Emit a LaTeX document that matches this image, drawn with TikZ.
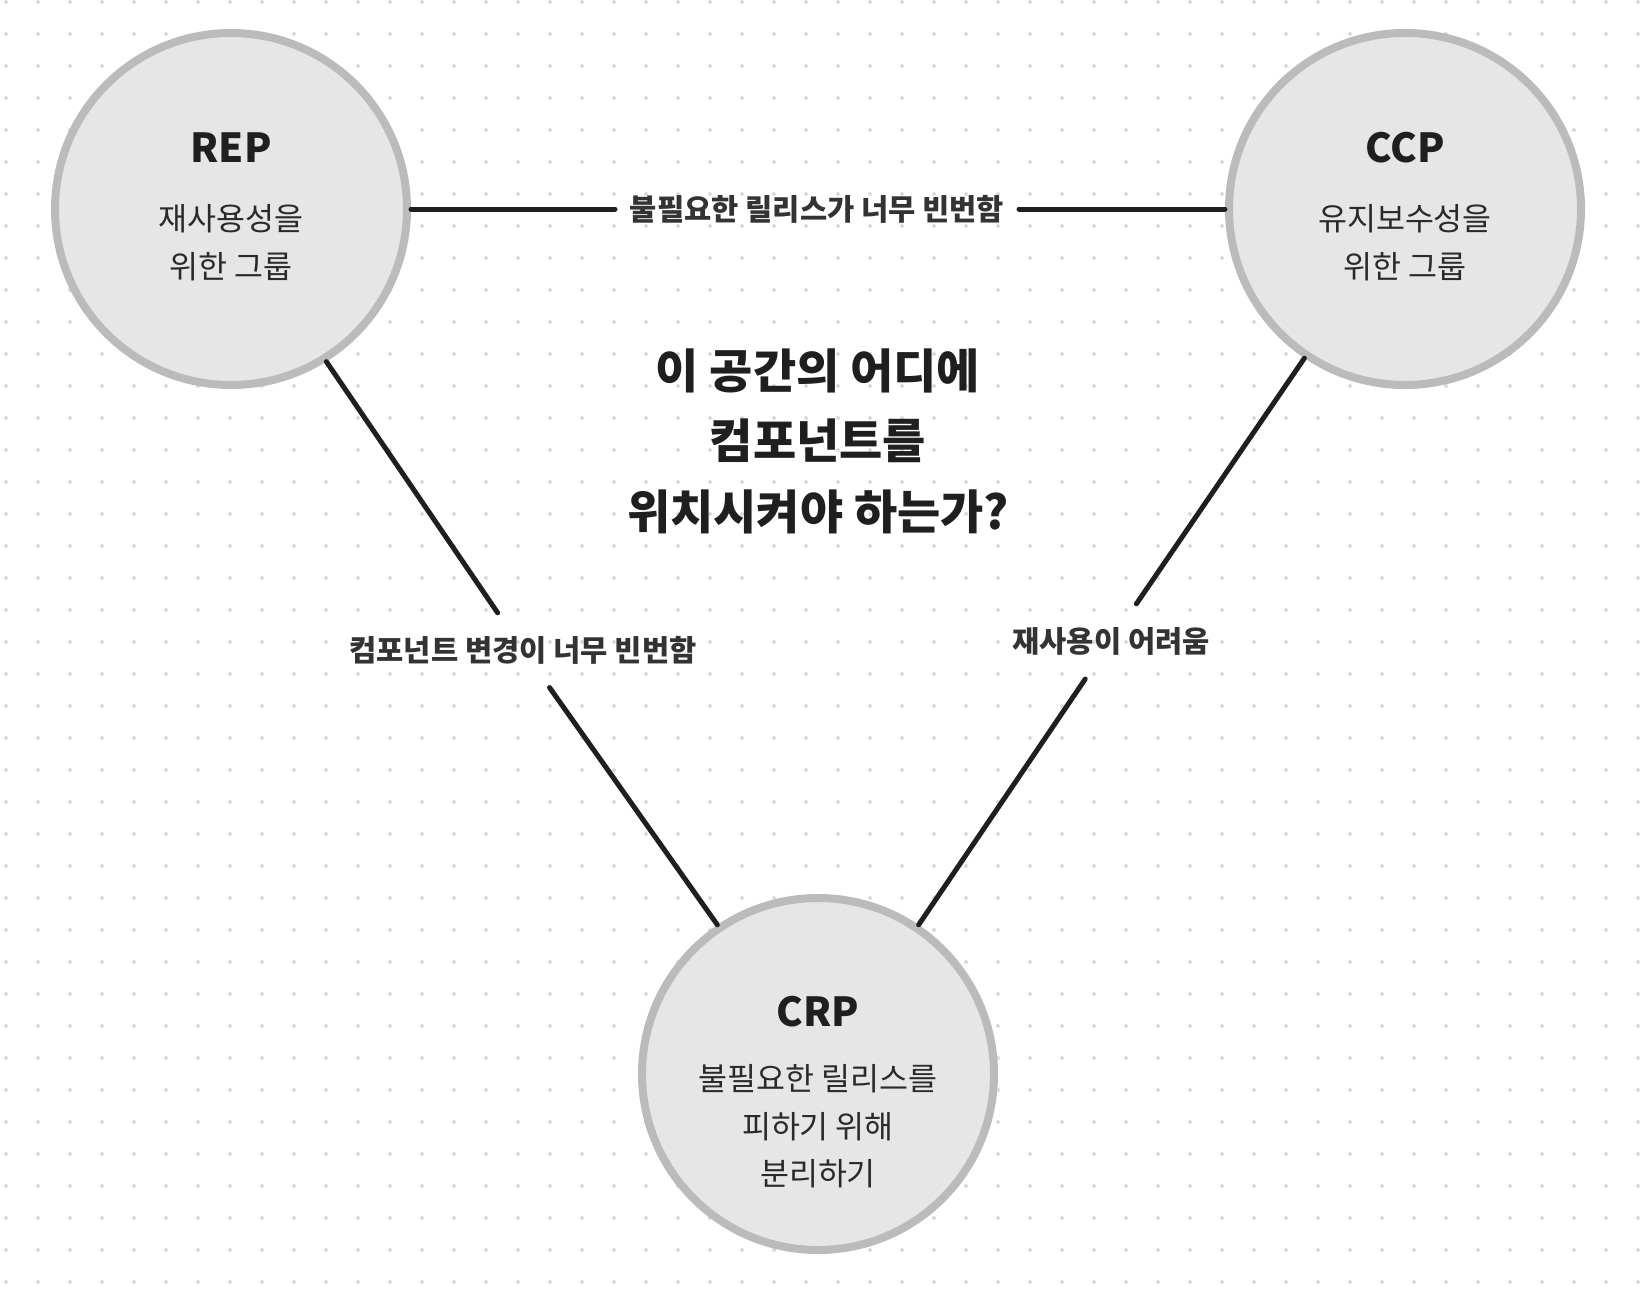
\documentclass[tikz,border=0pt]{standalone}
\usepackage{fontspec}
\setmainfont{Noto Sans CJK KR}
\usetikzlibrary{calc}
\definecolor{ringc}{HTML}{BBBBBB}
\definecolor{fillc}{HTML}{E6E6E6}
\definecolor{inkc}{HTML}{1F1F1F}
\definecolor{lblc}{HTML}{333333}
\definecolor{bodyc}{HTML}{2A2A2A}
\definecolor{dotc}{HTML}{DADADA}
\begin{document}
\begin{tikzpicture}[x=1pt,y=-1pt,
  group/.style={circle, draw=ringc, line width=8pt, fill=fillc, minimum size=352pt, inner sep=0pt},
  conn/.style={draw=inkc, line width=5pt, line cap=round},
  lbl/.style={text=lblc, font=\fontsize{29.6}{34}\selectfont\bfseries, inner sep=0pt},
  ttl/.style={text=inkc, font=\fontsize{40}{48}\selectfont\bfseries, inner sep=0pt},
  body/.style={text=bodyc, font=\fontsize{31.5}{47.5}\selectfont, align=center, inner sep=0pt},
  qst/.style={text=inkc, font=\fontsize{47}{70.5}\selectfont\bfseries, align=center, inner sep=0pt}]
\useasboundingbox[fill=white] (0,0) rectangle (1640,1292);
\foreach \i in {0,...,51} {
  \foreach \j in {0,...,40} {
    \fill[dotc] (6+32*\i, 2+32*\j) circle (2pt);
  }
}
% groups
\node[group] (REP) at (231,209) {};
\node[group] (CCP) at (1405,209) {};
\node[group] (CRP) at (818,1074) {};
% texts in groups
\node[ttl] (REPt) at (231,148) {REP};
\node[body] (REPb) at (231,242.5) {재사용성을\\위한 그룹};
\node[ttl] (CCPt) at (1405,148) {CCP};
\node[body] (CCPb) at (1405,242.5) {유지보수성을\\위한 그룹};
\node[ttl] (CRPt) at (818,1012) {CRP};
\node[body] (CRPb) at (818,1126.5) {불필요한 릴리스를\\피하기 위해\\분리하기};
% central question
\node[qst] (Q) at (818,441) {이 공간의 어디에\\컴포넌트를\\위치시켜야 하는가?};
% edge labels
\node[lbl] (lt) at (817,209) {불필요한 릴리스가 너무 빈번함};
\node[lbl] (ll) at (523,650) {컴포넌트 변경이 너무 빈번함};
\node[lbl] (lr) at (1111,641) {재사용이 어려움};
% connectors
\draw[conn, shorten >=202pt] (REP.east) -- (lt.center);
\draw[conn, shorten >=202pt] (CCP.west) -- (lt.center);
\draw[conn, shorten >=45pt] (REP.-58.7) -- (ll.center);
\draw[conn, shorten >=46pt] (CRP.124.7) -- (ll.center);
\draw[conn, shorten >=45pt] (CCP.-124) -- (lr.center);
\draw[conn, shorten >=46pt] (CRP.56) -- (lr.center);
\end{tikzpicture}
\end{document}
